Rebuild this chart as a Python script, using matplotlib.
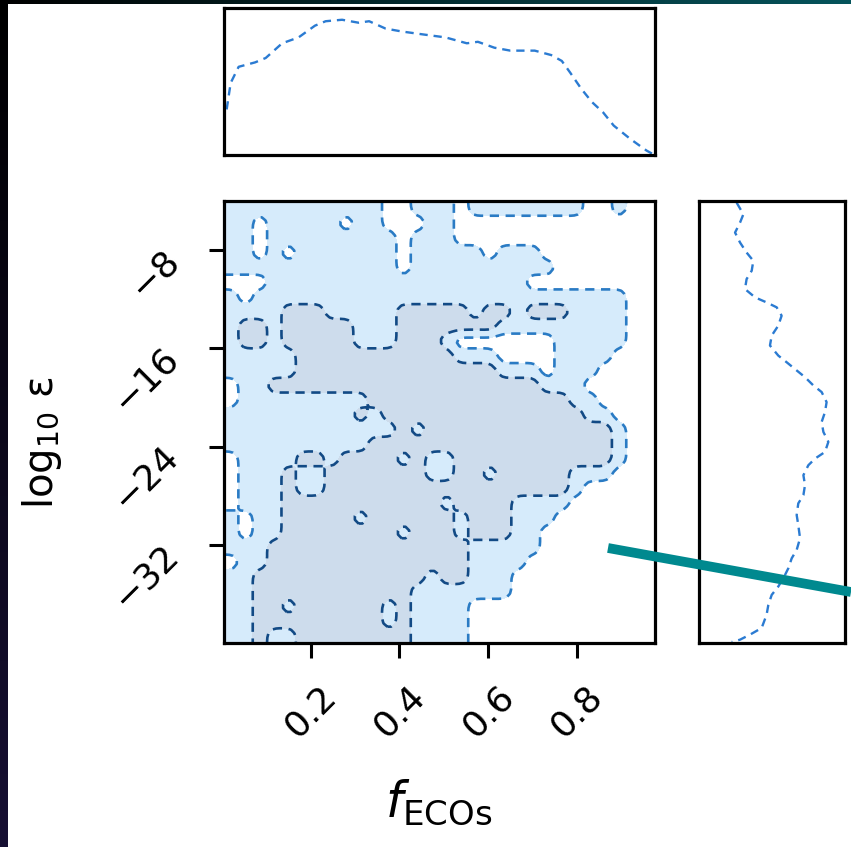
import numpy as np
import matplotlib
matplotlib.use("Agg")
import matplotlib.pyplot as plt
from matplotlib.lines import Line2D
from matplotlib.transforms import ScaledTranslation

# ---------------- data ----------------
x_range = (0.005, 0.976)          # f_ECOs axis range
y_range = (-40.0, -4.0)           # log10 epsilon axis range
x_ticks = [0.2, 0.4, 0.6, 0.8]
x_tick_labels = ["0.2", "0.4", "0.6", "0.8"]
y_ticks = [-8, -16, -24, -32]
y_tick_labels = ["\u22128", "\u221216", "\u221224", "\u221232"]

# marginal of f_ECOs (top panel, relative density)
top_x = [0.011, 0.020, 0.038, 0.075, 0.099, 0.136, 0.173, 0.210, 0.234, 0.271,
         0.308, 0.332, 0.369, 0.406, 0.454, 0.504, 0.552, 0.577, 0.614, 0.650,
         0.705, 0.742, 0.766, 0.785, 0.810, 0.834, 0.859, 0.883, 0.920, 0.957, 0.969]
top_y = [0.31, 0.49, 0.60, 0.63, 0.66, 0.76, 0.80, 0.88, 0.91, 0.92,
         0.90, 0.91, 0.86, 0.84, 0.82, 0.80, 0.76, 0.77, 0.73, 0.71,
         0.71, 0.68, 0.64, 0.56, 0.45, 0.36, 0.29, 0.20, 0.11, 0.03, 0.01]

# marginal of log10 epsilon (right panel, relative density)
right_y = [-4.14, -5.08, -5.76, -6.57, -7.38, -8.20, -8.87, -9.68, -10.36, -11.17,
           -11.85, -12.26, -12.66, -13.34, -14.15, -14.96, -15.77, -16.59, -17.13, -17.80,
           -18.35, -19.02, -19.56, -20.38, -21.19, -22.00, -22.81, -23.62, -24.44, -24.98,
           -25.52, -26.33, -27.14, -27.96, -28.63, -29.58, -30.39, -31.47, -32.42, -33.10,
           -33.91, -34.72, -35.40, -36.08, -36.89, -37.70, -38.78, -39.32, -39.73, -39.92]
right_x = [0.258, 0.304, 0.281, 0.247, 0.281, 0.326, 0.372, 0.361, 0.326, 0.315,
           0.384, 0.463, 0.532, 0.566, 0.543, 0.498, 0.486, 0.543, 0.600, 0.669,
           0.726, 0.783, 0.840, 0.874, 0.863, 0.840, 0.852, 0.886, 0.863, 0.795,
           0.749, 0.715, 0.726, 0.715, 0.680, 0.669, 0.680, 0.692, 0.669, 0.635,
           0.612, 0.578, 0.543, 0.498, 0.475, 0.463, 0.429, 0.349, 0.281, 0.224]

# 2-D credible regions read on a 30 x 30 grid (top row first):
# '.' outside, '1' outer region, '2' inner region
GRID_ROWS = [
    "11111111111..111.11111111..1..",
    "11.11111.11...11..............",
    "11.111111111.111..............",
    "11.1.1111111.11111.111........",
    "111111111111.1111111111.......",
    "...111111111111111111.........",
    "1.11111111111111111111111111..",
    "111122211111222" + "2212212221111..",
    "122122222111222" + "2222111111111..",
    "122122222111222" + "1.......11111..",
    "111112222222222" + "2111....1111...",
    "111112222222222" + "2222111.111....",
    ".11222222222222" + "2222222111.....",
    ".11111111122222" + "22222222211....",
    "111111111212222" + "222222222211...",
    "111111111111212" + "2222222222221..",
    "111111111122222" + "2222222222221..",
    ".11112212222121" + "1222222222221..",
    ".11121122222221" + "122122222111...",
    ".11121122222222" + "2222222221.....",
    ".11122222222222" + "122221111......",
    "1.1122222122222" + "21222111.......",
    "1.1122222222122" + "2122211........",
    "111222222222222" + "2211111........",
    ".11222222222222" + "221111.........",
    "112222222222221" + "22111..........",
    "112222222222211" + "11111..........",
    "112212222221211" + "11.............",
    "112222222221211" + "11.............",
    "112112222222211" + "11.............",
]

# ---------------- styles ----------------
W, H = 851, 847
light_fill = "#d6ebfb"
inner_fill = "#cddcec"
outer_line = "#2a7bc4"
inner_line = "#124a85"
marg_line = "#2b7bd2"
teal = "#00898f"

fig = plt.figure(figsize=(W / 100, H / 100), dpi=100)
fig.patch.set_facecolor("white")


def fx(px):
    return px / W


def fy(py):
    return 1 - py / H


main_ax = fig.add_axes([fx(224), fy(643), fx(655) - fx(224), fy(201) - fy(643)])
top_ax = fig.add_axes([fx(224), fy(155), fx(655) - fx(224), fy(8) - fy(155)])
right_ax = fig.add_axes([fx(699), fy(643), fx(845) - fx(699), fy(201) - fy(643)])

# ---- main 2-D panel ----
code = {".": 0, "1": 1, "2": 2}
Z = np.array([[code[c] for c in row] for row in GRID_ROWS], dtype=float)

# light smoothing of the region map (as a corner plot smooths its histogram)
up = 4
Zu = np.kron(Z, np.ones((up, up)))


def box_pass(a, k=3):
    ker = np.ones(k) / k
    h = k // 2
    a = np.apply_along_axis(lambda r: np.convolve(np.pad(r, h, mode="edge"), ker, mode="valid"), 1, a)
    a = np.apply_along_axis(lambda c: np.convolve(np.pad(c, h, mode="edge"), ker, mode="valid"), 0, a)
    return a


for _ in range(3):
    Zu = box_pass(Zu)

nyu, nxu = Zu.shape
xc = x_range[0] + (np.arange(nxu) + 0.5) * (x_range[1] - x_range[0]) / nxu
yc = y_range[1] - (np.arange(nyu) + 0.5) * (y_range[1] - y_range[0]) / nyu
Zp = np.pad(Zu, 1, mode="edge")[::-1]
xp = np.concatenate([[x_range[0]], xc, [x_range[1]]])
yp = np.concatenate([[y_range[1]], yc, [y_range[0]]])[::-1]

main_ax.contourf(xp, yp, Zp, levels=[0.5, 1.5, 2.5], colors=[light_fill, inner_fill])
main_ax.contour(xp, yp, Zp, levels=[0.5], colors=[outer_line], linewidths=1.9,
                linestyles=[(0, (3.5, 2.5))])
main_ax.contour(xp, yp, Zp, levels=[1.5], colors=[inner_line], linewidths=1.9,
                linestyles=[(0, (3.5, 2.5))])
main_ax.set_xlim(*x_range)
main_ax.set_ylim(*y_range)
main_ax.set_xticks(x_ticks)
main_ax.set_xticklabels(x_tick_labels, rotation=45)
main_ax.set_yticks(y_ticks)
main_ax.set_yticklabels(y_tick_labels, rotation=45)
main_ax.tick_params(direction="out", length=11, width=2.2, labelsize=26, colors="black")
main_ax.tick_params(axis="x", pad=15)
main_ax.tick_params(axis="y", pad=17)
shift_down = ScaledTranslation(0, -0.06, fig.dpi_scale_trans)
for lab in main_ax.get_yticklabels():
    lab.set_transform(lab.get_transform() + shift_down)

# ---- top marginal ----
top_ax.plot(top_x, top_y, color=marg_line, lw=1.7, ls=(0, (3.5, 2.5)))
top_ax.set_xlim(*x_range)
top_ax.set_ylim(0, 1.0)
top_ax.set_xticks([])
top_ax.set_yticks([])

# ---- right marginal ----
right_ax.plot(right_x, right_y, color=marg_line, lw=1.7, ls=(0, (3.5, 2.5)))
right_ax.set_ylim(*y_range)
right_ax.set_xlim(0, 1)
right_ax.set_xticks([])
right_ax.set_yticks([])

for a in (main_ax, top_ax, right_ax):
    for s in a.spines.values():
        s.set_linewidth(2.3)
        s.set_color("black")

# axis labels
fig.text(fx(439), fy(802), r"$f_{\mathrm{ECOs}}$", fontsize=35, ha="center", va="center")
fig.text(fx(42), fy(443), "log$_{10}$ \u03b5", fontsize=29, rotation=90,
         ha="center", va="center")

# slide background strips (dark edges of the screenshot)
left_strip = fig.add_axes([0, 0, fx(8), 1])
gradL = np.linspace(0, 1, 256)[:, None, None] * np.array([0.09, 0.06, 0.20])[None, None, :]
left_strip.imshow(gradL, aspect="auto", origin="upper", extent=[0, 1, 0, 1])
left_strip.set_axis_off()
top_strip = fig.add_axes([0, fy(4.5), 1, fy(0) - fy(4.5)])
gradT = np.linspace(0, 1, 256)[None, :, None] * np.array([0.02, 0.33, 0.36])[None, None, :]
top_strip.imshow(gradT, aspect="auto", extent=[0, 1, 0, 1])
top_strip.set_axis_off()

# teal annotation line crossing the figure
fig.add_artist(Line2D([fx(608), 1.0], [fy(548), fy(592)], transform=fig.transFigure,
                      color=teal, lw=7, solid_capstyle="butt"))

fig.savefig("out.png", dpi=100)
